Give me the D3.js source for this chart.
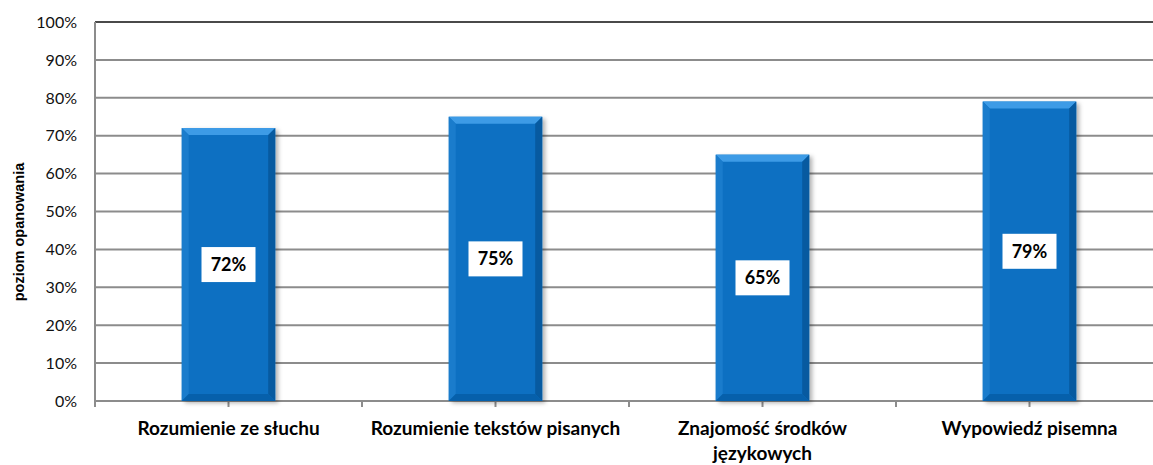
<!DOCTYPE html>
<html><head><meta charset="utf-8">
<script src="https://cdn.jsdelivr.net/npm/d3@7"></script>
<style>body{margin:0;background:#fff}svg{display:block}</style>
</head><body><svg id="c" width="1153" height="465"></svg>
<script>
const categories = [["Rozumienie ze słuchu"],["Rozumienie tekstów pisanych"],["Znajomość środków","językowych"],["Wypowiedź pisemna"]];
const values = [72, 75, 65, 79];
const yTicks = [0,10,20,30,40,50,60,70,80,90,100];
const yTitle = "poziom opanowania";

const svg = d3.select("#c");
const pLeft = 95, pRight = 1163, pTop = 22, pBottom = 401;
const x = d3.scaleBand().domain(d3.range(categories.length)).range([pLeft, pRight]).paddingInner(0.65).paddingOuter(0.325);
const xb = d3.scaleBand().domain(d3.range(categories.length)).range([pLeft, pRight]);
const y = d3.scaleLinear().domain([0,100]).range([pBottom, pTop]);

const defs = svg.append("defs");
const f = defs.append("filter").attr("id","sh").attr("x","-20%").attr("y","-20%").attr("width","150%").attr("height","150%");
f.append("feDropShadow").attr("dx",3).attr("dy",2).attr("stdDeviation",2).attr("flood-color","#000").attr("flood-opacity",0.3);

// gridlines
svg.append("g").selectAll("line").data(yTicks).join("line")
  .attr("x1", pLeft).attr("x2", 1153).attr("y1", d=>y(d)).attr("y2", d=>y(d))
  .attr("stroke", d=> d===100 ? "#4a4a4a" : "#8c8c8c").attr("stroke-width", 2);

// y tick labels
svg.append("g").selectAll("text").data(yTicks).join("text")
  .attr("x", 77).attr("y", d=>y(d)).attr("dy","0.36em").attr("text-anchor","end")
  .attr("font-family","Lato, 'Open Sans', sans-serif").attr("font-size",16).attr("fill","#111")
  .text(d=>d+"%");

// y axis line
svg.append("line").attr("x1",pLeft).attr("x2",pLeft).attr("y1",pTop).attr("y2",pBottom+6).attr("stroke","#8c8c8c").attr("stroke-width",2);

// x ticks at half bands
const tickPos = d3.range(1, categories.length*2+1).map(i => pLeft + i*xb.bandwidth()/2);
svg.append("g").selectAll("line").data(tickPos).join("line")
  .attr("x1",d=>d).attr("x2",d=>d).attr("y1",pBottom).attr("y2",pBottom+6).attr("stroke","#8c8c8c").attr("stroke-width",2);

// bars
const bv = 7;
const g = svg.append("g").selectAll("g").data(values).join("g");
g.each(function(v,i){
  const s = d3.select(this);
  const x0 = x(i), w = x.bandwidth(), y0 = y(v), b = y(0);
  s.append("rect").attr("x",x0).attr("y",y0).attr("width",w).attr("height",b-y0).attr("fill","#0a6fc2").attr("filter","url(#sh)");
  s.append("polygon").attr("points",[[x0,y0],[x0+w,y0],[x0+w-bv,y0+bv],[x0+bv,y0+bv]].join(" ")).attr("fill","#3d9be6");
  s.append("polygon").attr("points",[[x0,y0],[x0+bv,y0+bv],[x0+bv,b-bv],[x0,b]].join(" ")).attr("fill","#1a7ccc");
  s.append("polygon").attr("points",[[x0+w,y0],[x0+w-bv,y0+bv],[x0+w-bv,b-bv],[x0+w,b]].join(" ")).attr("fill","#075aa0");
  s.append("polygon").attr("points",[[x0,b],[x0+bv,b-bv],[x0+w-bv,b-bv],[x0+w,b]].join(" ")).attr("fill","#0660ab");
  const cx = x0 + w/2, cy = y(v/2);
  s.append("rect").attr("x",cx-27).attr("y",cy-17.5).attr("width",54).attr("height",35).attr("fill","#fff");
  s.append("text").attr("x",cx).attr("y",cy).attr("dy","0.36em").attr("text-anchor","middle")
    .attr("font-family","Lato, 'Open Sans', sans-serif").attr("font-weight","bold").attr("font-size",18).attr("fill","#000")
    .text(v+"%");
});

// x labels
const xl = svg.append("g").selectAll("text").data(categories).join("text")
  .attr("text-anchor","middle").attr("font-family","Lato, 'Open Sans', sans-serif").attr("font-weight","bold").attr("font-size",19).attr("fill","#000");
xl.each(function(lines,i){
  const t = d3.select(this);
  lines.forEach((l,j)=>t.append("tspan").attr("x", xb(i)+xb.bandwidth()/2).attr("y", 435 + j*25).text(l));
});

// y title
svg.append("text").attr("transform","translate(24,232) rotate(-90)").attr("text-anchor","middle")
  .attr("font-family","'Liberation Sans', Arial, sans-serif").attr("font-weight","bold").attr("font-size",14.5).attr("fill","#000")
  .text(yTitle);
</script></body></html>
